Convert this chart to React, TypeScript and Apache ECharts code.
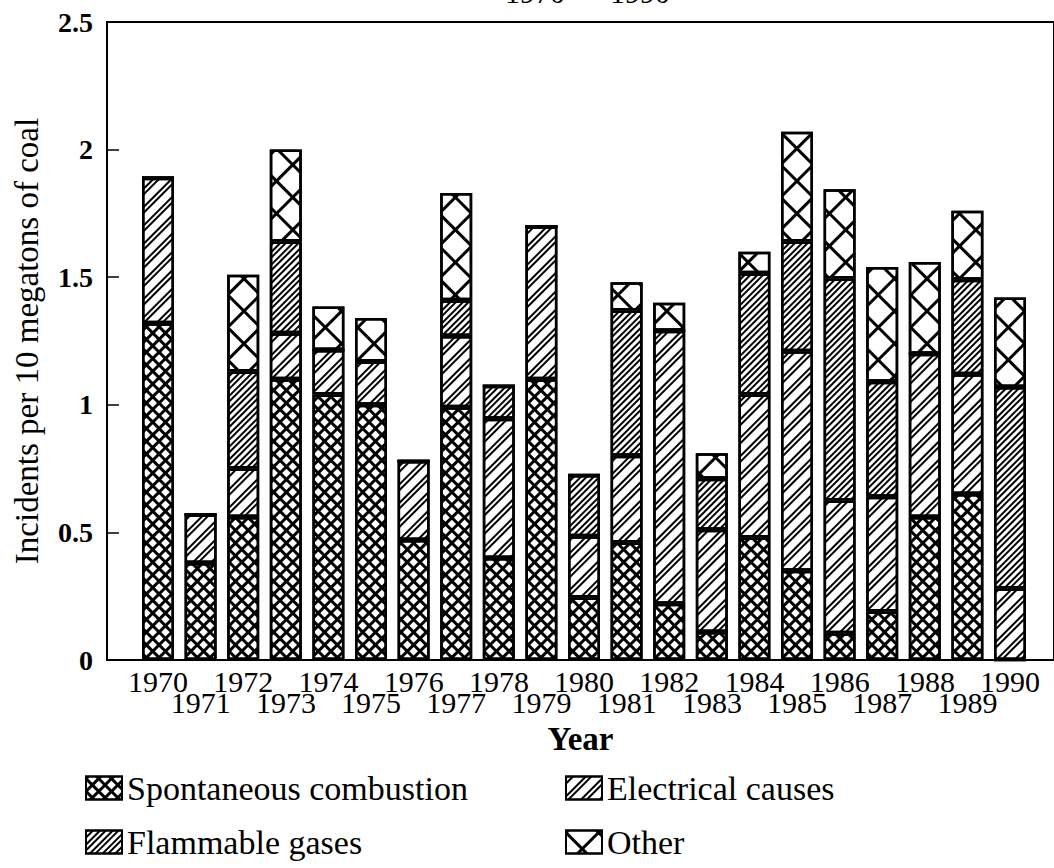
import React, { useEffect, useRef } from "react";
import * as echarts from "echarts";

const years = [1970, 1971, 1972, 1973, 1974, 1975, 1976, 1977, 1978, 1979, 1980, 1981, 1982, 1983, 1984, 1985, 1986, 1987, 1988, 1989, 1990];
const spontaneous = [1.32, 0.38, 0.56, 1.10, 1.04, 1.00, 0.47, 0.99, 0.40, 1.10, 0.245, 0.46, 0.22, 0.11, 0.48, 0.35, 0.105, 0.19, 0.56, 0.65, 0];
const electrical = [0.57, 0.19, 0.19, 0.18, 0.175, 0.17, 0.31, 0.28, 0.545, 0.60, 0.24, 0.34, 1.07, 0.40, 0.56, 0.86, 0.52, 0.45, 0.64, 0.47, 0.28];
const flammable = [0, 0, 0.38, 0.36, 0, 0, 0, 0.14, 0.13, 0, 0.24, 0.57, 0, 0.20, 0.475, 0.43, 0.87, 0.45, 0, 0.37, 0.79];
const other = [0, 0, 0.38, 0.36, 0.17, 0.17, 0, 0.42, 0, 0, 0, 0.11, 0.11, 0.10, 0.085, 0.43, 0.35, 0.45, 0.36, 0.27, 0.35];
const yTicks = [0, 0.5, 1, 1.5, 2, 2.5];
const seriesNames = ["Spontaneous combustion", "Electrical causes", "Flammable gases", "Other"];
const evenYears = years.filter((y) => y % 2 === 0);
const oddYears = years.filter((y) => y % 2 === 1);

const FONT = "'Liberation Serif', 'Times New Roman', serif";

const decals: any[] = [
  // fine diamond cross-hatch
  { symbol: "rect", symbolSize: 1, color: "#000", dashArrayX: [[9, 0], [3, 6]], dashArrayY: [3, 0, 6, 0], rotation: Math.PI / 4 },
  // sparse double diagonal lines
  { symbol: "rect", symbolSize: 1, color: "#000", dashArrayX: [20, 0], dashArrayY: [2, 2, 2, 7], rotation: -Math.PI / 4 },
  // dense diagonal lines
  { symbol: "rect", symbolSize: 1, color: "#000", dashArrayX: [20, 0], dashArrayY: [2, 2, 2, 3], rotation: -Math.PI / 4 },
  // large X cross-hatch
  { symbol: "rect", symbolSize: 1, color: "#000", dashArrayX: [[23, 0], [3, 20]], dashArrayY: [3, 0, 20, 0], rotation: Math.PI / 4 },
];
const seriesValues = [spontaneous, electrical, flammable, other];
const legendPos = [
  { left: 80, top: 764 },
  { left: 560, top: 764 },
  { left: 80, top: 818 },
  { left: 560, top: 818 },
];

const yearLabel = (margin: number, values: number[]) => ({
  customValues: values,
  showMinLabel: true,
  showMaxLabel: true,
  hideOverlap: false,
  margin,
  fontFamily: FONT,
  fontSize: 30,
  lineHeight: 21,
  color: "#000",
  formatter: (v: number) => String(v),
});

export default function App() {
  const ref = useRef<HTMLDivElement>(null);
  useEffect(() => {
    if (!ref.current) return;
    const chart = echarts.init(ref.current, null, { renderer: "svg" });
    const option: any = {
      animation: false,
      backgroundColor: "#fff",
      title: {
        text: "1970  –  1990",
        left: 500,
        top: -28,
        textStyle: { fontFamily: FONT, fontSize: 30, fontWeight: "normal", color: "#000" },
      },
      grid: [
        { left: 107, right: -3, top: 22, bottom: 208, show: true, borderColor: "#000", borderWidth: 2, backgroundColor: "transparent" },
        { left: 136.7, right: 22.7, top: 22, bottom: 208 },
      ],
      legend: seriesNames.map((n, i) => ({
        data: [n],
        left: legendPos[i].left,
        top: legendPos[i].top,
        icon: "rect",
        itemWidth: 36,
        itemHeight: 23,
        selectedMode: false,
        itemStyle: { borderColor: "#000", borderWidth: 2, decal: decals[i] },
        textStyle: { fontFamily: FONT, fontSize: 34, color: "#000", lineHeight: 34, padding: [4, 0, 0, 0] },
      })),
      xAxis: [
        {
          gridIndex: 0,
          type: "value",
          position: "bottom",
          min: 1968.8,
          max: 1991.03,
          name: "Year",
          nameLocation: "middle",
          nameGap: 62,
          nameTextStyle: { fontFamily: FONT, fontSize: 33, fontWeight: "bold", color: "#000", lineHeight: 33 },
          axisLine: { show: true, lineStyle: { color: "#000", width: 2 } },
          axisTick: { show: false },
          splitLine: { show: false },
          axisLabel: yearLabel(11, evenYears),
        },
        {
          gridIndex: 0,
          type: "value",
          position: "bottom",
          offset: 0,
          min: 1968.8,
          max: 1991.03,
          axisLine: { show: false },
          axisTick: { show: false },
          splitLine: { show: false },
          axisLabel: yearLabel(32, oddYears),
        },
        {
          gridIndex: 1,
          type: "category",
          data: years.map(String),
          show: false,
        },
      ],
      yAxis: [
        {
          gridIndex: 0,
          type: "value",
          min: 0,
          max: 2.5,
          interval: 0.5,
          name: "Incidents per 10 megatons of coal",
          nameLocation: "middle",
          nameGap: 64,
          nameTextStyle: { fontFamily: FONT, fontSize: 33, color: "#000" },
          axisLine: { show: true, lineStyle: { color: "#000", width: 1.5 } },
          axisTick: { show: true, inside: true, length: 12, lineStyle: { color: "#000", width: 1.5 } },
          splitLine: { show: false },
          axisLabel: {
            margin: 14,
            fontFamily: FONT,
            fontSize: 28,
            fontWeight: "bold",
            color: "#000",
            padding: [8, 0, 0, 0],
            formatter: (v: number) => (yTicks.includes(v) ? String(v) : ""),
          },
        },
        { gridIndex: 1, type: "value", min: 0, max: 2.5, show: false },
      ],
      series: seriesNames.map((n, i) => ({
        name: n,
        type: "bar",
        stack: "total",
        xAxisIndex: 2,
        yAxisIndex: 1,
        barWidth: 32,
        data: seriesValues[i],
        itemStyle: { color: "#fff", borderColor: "#000", borderWidth: 2.5, decal: decals[i] },
        emphasis: { disabled: true },
      })),
    };
    chart.setOption(option);
    return () => chart.dispose();
  }, []);
  return <div ref={ref} style={{ position: "absolute", left: 0, top: 0, width: 1054, height: 868 }} />;
}
